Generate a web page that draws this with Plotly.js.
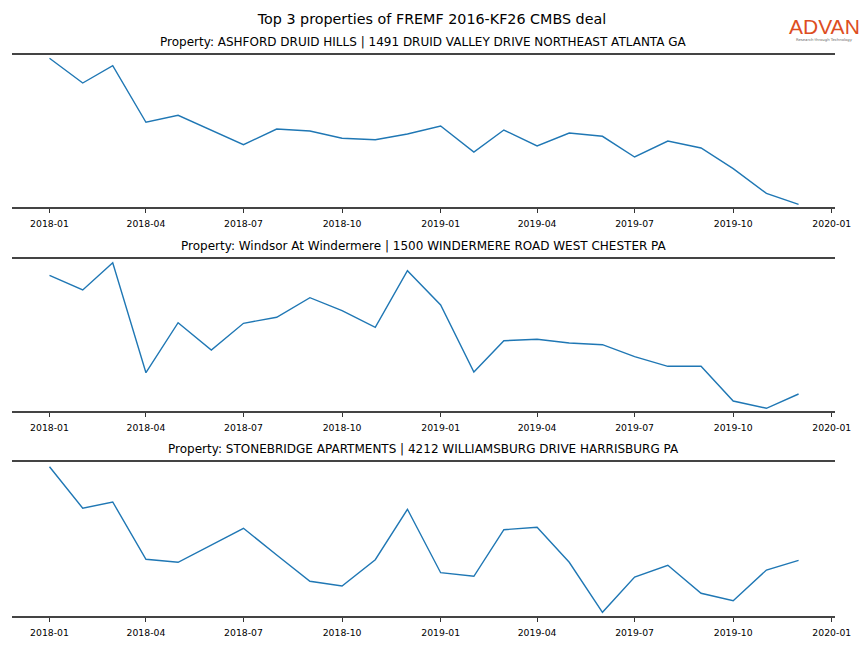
<!DOCTYPE html>
<html><head><meta charset="utf-8">
<script src="https://cdn.plot.ly/plotly-3.0.1.min.js"></script>
<style>html,body{margin:0;padding:0;background:#fff;}#chart{width:864px;height:648px;}</style>
</head><body><div id="chart"></div>
<script>
const months = ["2018-01-01","2018-02-01","2018-03-01","2018-04-01","2018-05-01","2018-06-01","2018-07-01","2018-08-01","2018-09-01","2018-10-01","2018-11-01","2018-12-01",
"2019-01-01","2019-02-01","2019-03-01","2019-04-01","2019-05-01","2019-06-01","2019-07-01","2019-08-01","2019-09-01","2019-10-01","2019-11-01","2019-12-01"];
const ashford = [148.7,124,141.3,84.7,91.7,77,62.3,78,76,68.7,67.3,73,81,55,77,61,74,70.7,50,66,59,38.3,13.7,2.7];
const windsor = [135.7,121,148.3,38.3,88.3,61,87.7,93.7,113.3,100.3,83.7,140.3,106,39,70.3,71.7,68,66.3,54.3,44.7,44.7,10,2.7,17];
const stonebridge = [149.3,107.7,114,56.7,53.7,71,87.7,61,34.7,30,56.3,106.7,43.3,39.7,86.3,88.7,53.7,3.7,39,50.7,22.7,15.3,46,55.7];
const tickVals = ["2018-01-01","2018-04-01","2018-07-01","2018-10-01","2019-01-01","2019-04-01","2019-07-01","2019-10-01","2020-01-01"];
const tickText = ["2018-01","2018-04","2018-07","2018-10","2019-01","2019-04","2019-07","2019-10","2020-01"];
const mainTitle = "Top 3 properties of FREMF 2016-KF26 CMBS deal";
const subTitles = [
 "Property: ASHFORD DRUID HILLS | 1491 DRUID VALLEY DRIVE NORTHEAST ATLANTA GA",
 "Property: Windsor At Windermere | 1500 WINDERMERE ROAD WEST CHESTER PA",
 "Property: STONEBRIDGE APARTMENTS | 4212 WILLIAMSBURG DRIVE HARRISBURG PA"
];
const series = [ashford, windsor, stonebridge];
const H = 648, W = 864;
const yDom = [[1-207/H, 1-55/H],[1-411/H, 1-259/H],[1-616/H, 1-462/H]];
const yMax = [152,152,154];
const xDom = [12/W, 835/W];
const font = "DejaVu Sans, sans-serif";

const traces = series.map((s,i)=>({
  x: months, y: s, type:'scatter', mode:'lines',
  line:{color:'#1f77b4', width:1.4},
  xaxis: i===0?'x':'x'+(i+1), yaxis: i===0?'y':'y'+(i+1),
  hoverinfo:'skip'
}));
const layout = {
  width:W, height:H, margin:{l:0,r:0,t:0,b:0},
  paper_bgcolor:'#fff', plot_bgcolor:'#fff', showlegend:false,
  title:{text:mainTitle, x:0.5, xanchor:'center', y:1-19/H, yanchor:'middle', font:{family:font, size:14.3, color:'#000'}},
  annotations: subTitles.map((t,i)=>({
    text:t, xref:'paper', yref:'paper', x:(xDom[0]+xDom[1])/2, y:yDom[i][1]+13/H,
    xanchor:'center', yanchor:'middle', showarrow:false,
    font:{family:font, size:12, color:'#000'}
  })).concat([
    {text:'ADVAN', xref:'paper', yref:'paper', x:824/W, y:1-27/H, xanchor:'center', yanchor:'middle', showarrow:false,
     font:{family:'Liberation Sans, Arial, sans-serif', size:21, color:'#dd4d22', weight:500}},
    {text:'Research through Technology', xref:'paper', yref:'paper', x:824/W, y:1-39.5/H, xanchor:'center', yanchor:'middle', showarrow:false,
     font:{family:font, size:3.8, color:'#666'}}
  ])
};
for(let i=0;i<3;i++){
  const xs = i===0?'xaxis':'xaxis'+(i+1);
  const ys = i===0?'yaxis':'yaxis'+(i+1);
  layout[xs] = {
    domain:xDom, anchor: i===0?'y':'y'+(i+1), type:'date',
    range:['2017-11-27','2020-01-04'],
    tickvals:tickVals, ticktext:tickText, ticks:'outside', ticklen:4, tickwidth:1, tickcolor:'#333',
    ticklabelstandoff:3,
    showline:true, mirror:true, linecolor:'#444', linewidth:1.6,
    showgrid:false, zeroline:false,
    tickfont:{family:font, size:9.3, color:'#000'}
  };
  layout[ys] = {
    domain:yDom[i], anchor: i===0?'x':'x'+(i+1), range:[0,yMax[i]],
    showticklabels:false, showgrid:false, zeroline:false, showline:false, ticks:''
  };
}
Plotly.newPlot('chart', traces, layout, {staticPlot:true, displayModeBar:false});
</script></body></html>
